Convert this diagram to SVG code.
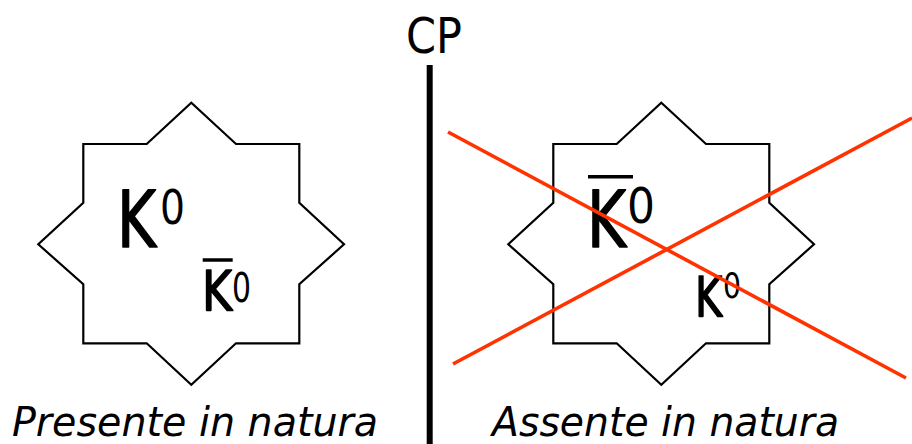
<svg xmlns="http://www.w3.org/2000/svg" width="912" height="444" viewBox="0 0 912 444">
<style>
.star{fill:#fff;stroke:#000;stroke-width:2.2;stroke-linejoin:miter}
.t{font-family:"DejaVu Sans","Liberation Sans",sans-serif;fill:#000}
.k{stroke:#000;stroke-width:1.6;stroke-linejoin:round}
.lab{font-family:"DejaVu Sans","Liberation Sans",sans-serif;font-style:italic;font-size:40px;fill:#000}
.bar{stroke:#000;stroke-width:3.5}
.cross{stroke:#ff3300;stroke-width:3.6;stroke-linecap:butt}
</style>
<defs>
<polygon id="starShape" points="83.3,144 146.7,144 191.3,102.7 236,144 299.3,144 299.3,202.7 344,244.3 299.3,284.3 299.3,343.3 236,343.3 191.3,384.7 146.7,343.3 83.3,343.3 83.3,284.3 38.3,244.3 83.3,202.7"/>
</defs>
<rect width="912" height="444" fill="#fff"/>
<g id="cp-title">
<text class="t" x="406" y="53" font-size="50" textLength="56" lengthAdjust="spacingAndGlyphs">CP</text>
</g>
<g id="cp-line">
<line x1="429.7" y1="65" x2="429.7" y2="444" stroke="#000" stroke-width="6"/>
</g>
<g id="star-left">
<use href="#starShape" class="star"/>
<text class="t k" x="117" y="247" font-size="78" textLength="39" lengthAdjust="spacingAndGlyphs">K</text>
<text class="t" x="160" y="224" font-size="48" textLength="25" lengthAdjust="spacingAndGlyphs">0</text>
<line class="bar" x1="202.7" y1="260" x2="232.7" y2="260"/>
<text class="t k" x="202" y="310" font-size="55" textLength="30" lengthAdjust="spacingAndGlyphs">K</text>
<text class="t" x="232" y="302" font-size="41" textLength="19" lengthAdjust="spacingAndGlyphs">0</text>
</g>
<g id="star-right">
<use href="#starShape" class="star" transform="translate(470 0)"/>
<line class="bar" x1="588" y1="176.7" x2="633" y2="176.7"/>
<text class="t k" x="587" y="247" font-size="78" textLength="39" lengthAdjust="spacingAndGlyphs">K</text>
<text class="t" x="627" y="223" font-size="50" textLength="28" lengthAdjust="spacingAndGlyphs">0</text>
<text class="t k" x="695" y="316" font-size="56" textLength="27" lengthAdjust="spacingAndGlyphs">K</text>
<text class="t" x="723" y="298" font-size="35" textLength="18" lengthAdjust="spacingAndGlyphs">0</text>
</g>
<g id="connectors">
<line class="cross" x1="448" y1="132" x2="906" y2="378"/>
<line class="cross" x1="453" y1="364" x2="912" y2="118"/>
</g>
<g id="label-left">
<text class="lab" x="12" y="436" textLength="366" lengthAdjust="spacingAndGlyphs">Presente in natura</text>
</g>
<g id="label-right">
<text class="lab" x="492" y="436" textLength="347" lengthAdjust="spacingAndGlyphs">Assente in natura</text>
</g>
</svg>
